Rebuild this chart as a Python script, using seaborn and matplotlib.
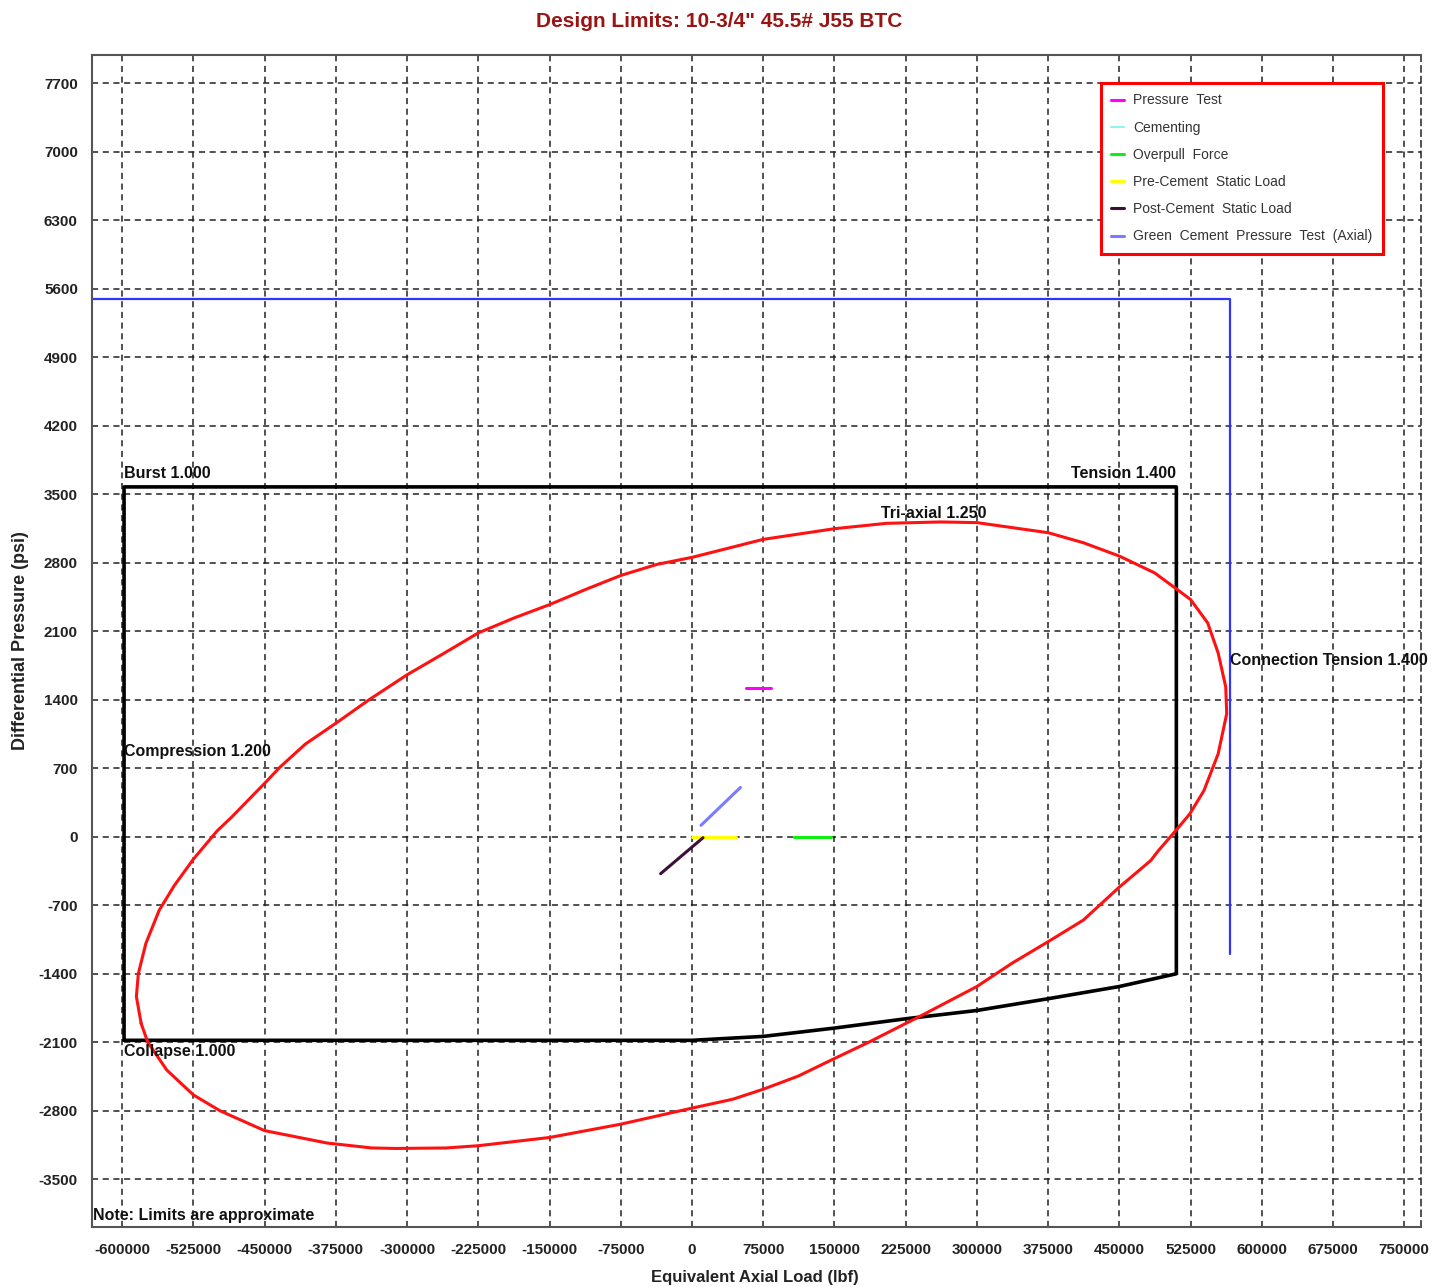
import numpy as np
import matplotlib
matplotlib.use('Agg')
import matplotlib.pyplot as plt
import seaborn as sns

# ---------------- data ----------------
# design limit box (burst / tension / collapse)
box_x = [-598000, -598000, 510000, 510000, 450000, 375000, 300000, 225000, 150000, 75000, 0, -598000]
box_y = [-2080, 3575, 3575, -1400, -1530, -1655, -1775, -1860, -1955, -2040, -2080, -2080]

# connection tension limit
conn_x = [-632000, 566000, 566000]
conn_y = [5500, 5500, -1200]

# tri-axial envelope
tri_x = [-580000, -585000, -583000, -575000, -561000, -545000, -525000, -500000, -485000,
         -450000, -434000, -407000, -375000, -340000, -300000, -262000, -225000, -187000,
         -150000, -112000, -75000, -37000, 0, 75000, 150000, 205000, 262000, 300000,
         375000, 412000, 450000, 487000, 510000, 525000, 543000, 554000, 562000, 563000,
         554000, 539000, 524000, 510000, 491000, 483000, 450000, 412000, 375000, 337000,
         300000, 242000, 225000, 186000, 150000, 112000, 75000, 43000, 0, -75000,
         -150000, -225000, -259000, -312000, -337000, -384000, -450000, -497000, -525000,
         -553000, -573000, -580000]
tri_y = [-1908, -1633, -1400, -1089, -751, -497, -229, 60, 198,
         546, 710, 948, 1160, 1400, 1655, 1870, 2083, 2237,
         2372, 2527, 2670, 2783, 2855, 3039, 3148, 3203, 3217, 3210,
         3107, 3005, 2868, 2697, 2533, 2424, 2185, 1878, 1530, 1257,
         847, 471, 232, 70, -143, -243, -514, -852, -1072, -1292,
         -1530, -1825, -1908, -2100, -2266, -2445, -2580, -2682, -2773, -2937,
         -3073, -3157, -3180, -3185, -3180, -3130, -3003, -2800, -2638,
         -2384, -2100, -1908]

# load cases
pressure_test_x = [57000, 83000]
pressure_test_y = [1516, 1516]
overpull_x = [107000, 146000]
overpull_y = [0, 0]
pre_cement_x = [0, 46000]
pre_cement_y = [0, 0]
post_cement_x = [-33000, 11600]
post_cement_y = [-377, -10]
green_cement_x = [9500, 51000]
green_cement_y = [117, 504]

x_ticks = list(range(-600000, 750001, 75000))
y_ticks = list(range(-3500, 7701, 700))

# ------------------------------------------------------------------
sns.set_style('white')
plt.rcParams['font.family'] = ['Liberation Sans', 'DejaVu Sans']
plt.rcParams['axes.unicode_minus'] = False

fig, ax = plt.subplots(figsize=[14.45, 12.87], dpi=100)
plt.subplots_adjust(left=0.0635, right=0.9832, bottom=0.0469, top=0.9573)

ax.set_xlim(-632000, 767300)
ax.set_ylim(-3984, 7989)
ax.set_xticks(x_ticks)
ax.set_yticks(y_ticks)
ax.set_xticklabels(['%d' % v for v in x_ticks])
ax.set_yticklabels(['%d' % v for v in y_ticks])
ax.grid(True, color='#222222', linestyle=(0, (4, 3)), linewidth=1.1)
ax.set_axisbelow(True)

for s in ax.spines.values():
    s.set_color('#555555')
    s.set_linewidth(1.5)
ax.spines['right'].set_linestyle((0, (4, 3)))
ax.spines['right'].set_color('#222222')
ax.spines['right'].set_linewidth(1.1)

ax.tick_params(axis='y', direction='out', length=7, width=1.3, color='#555555', pad=3,
               labelsize=11)
ax.tick_params(axis='x', direction='out', length=8, width=1.3, color='#555555', pad=4,
               labelsize=11)
for lab in ax.get_xticklabels() + ax.get_yticklabels():
    lab.set_fontweight('bold')
    lab.set_color('#222222')

# limit lines
sns.lineplot(x=conn_x, y=conn_y, sort=False, estimator=None, color='#3333ff', lw=1.6, ax=ax)
sns.lineplot(x=box_x, y=box_y, sort=False, estimator=None, color='black', lw=2.6, ax=ax)
sns.lineplot(x=tri_x, y=tri_y, sort=False, estimator=None, color='#ff1111', lw=2.2, ax=ax)

# load cases
sns.lineplot(x=pressure_test_x, y=pressure_test_y, estimator=None, color='#ff00ff', lw=2.2,
             label='Pressure  Test', ax=ax)
ax.plot([], [], color='#8ff5f0', lw=1.5, label='Cementing')
sns.lineplot(x=overpull_x, y=overpull_y, estimator=None, color='#11ee11', lw=2.2,
             label='Overpull  Force', ax=ax)
sns.lineplot(x=pre_cement_x, y=pre_cement_y, estimator=None, color='#ffff00', lw=2.2,
             label='Pre-Cement  Static Load', ax=ax)
sns.lineplot(x=post_cement_x, y=post_cement_y, estimator=None, color='#3a1038', lw=2.2,
             label='Post-Cement  Static Load', ax=ax)
sns.lineplot(x=green_cement_x, y=green_cement_y, estimator=None, color='#7b7bff', lw=2.2,
             label='Green  Cement  Pressure  Test  (Axial)', ax=ax)

order = ['Pressure  Test', 'Cementing', 'Overpull  Force', 'Pre-Cement  Static Load',
         'Post-Cement  Static Load', 'Green  Cement  Pressure  Test  (Axial)']
handles, labels = ax.get_legend_handles_labels()
hmap = dict(zip(labels, handles))
leg = ax.legend([hmap[l] for l in order], order, loc='upper right',
                bbox_to_anchor=(0.9716, 0.976), frameon=True, fancybox=False,
                edgecolor='#ff0000', framealpha=1, fontsize=10, handlelength=0.9,
                labelspacing=0.95, borderpad=0.75, handletextpad=0.7, borderaxespad=0)
leg.get_frame().set_linewidth(2.2)
for t in leg.get_texts():
    t.set_color('#333333')

# limit annotations
kw = dict(fontsize=11.5, fontweight='bold', color='#111111')
ax.text(-598000, 3640, 'Burst 1.000', ha='left', va='bottom', **kw)
ax.text(510000, 3640, 'Tension 1.400', ha='right', va='bottom', **kw)
ax.text(255000, 3230, 'Tri-axial 1.250', ha='center', va='bottom', **kw)
ax.text(567000, 1800, 'Connection Tension 1.400', ha='left', va='center', **kw)
ax.text(-598000, 870, 'Compression 1.200', ha='left', va='center', **kw)
ax.text(-598000, -2190, 'Collapse 1.000', ha='left', va='center', **kw)
ax.text(0.001, 0.0094, 'Note: Limits are approximate', transform=ax.transAxes,
        ha='left', va='center', **kw)

ax.set_xlabel('Equivalent Axial Load (lbf)', fontsize=12, fontweight='bold', color='#222222')
ax.set_ylabel('Differential Pressure (psi)', fontsize=13, fontweight='bold', color='#222222')
ax.xaxis.set_label_coords(0.499, -0.037)
ax.yaxis.set_label_coords(-0.047, 0.5)

fig.text(0.498, 0.983, 'Design Limits: 10-3/4" 45.5# J55 BTC', ha='center', va='center',
         fontsize=15, fontweight='bold', color='#9b1414')

plt.savefig('out.png', dpi=100)
